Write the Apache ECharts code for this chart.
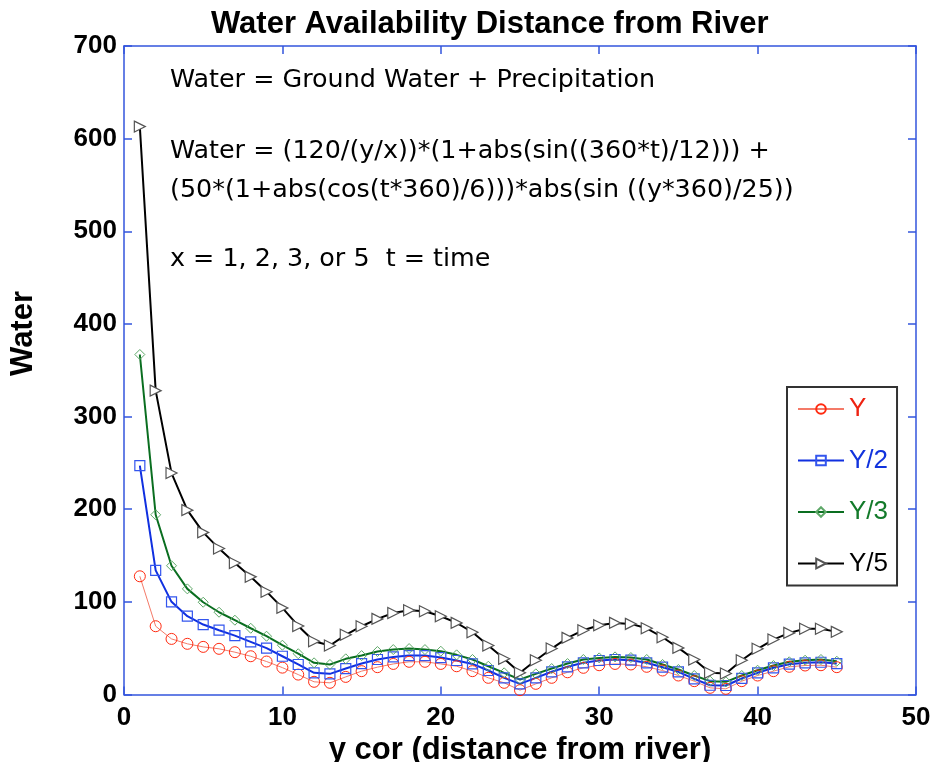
<!DOCTYPE html>
<html>
<head>
<meta charset="utf-8">
<title>Water Availability Distance from River</title>
<script src="https://cdn.jsdelivr.net/npm/echarts@6/dist/echarts.min.js"></script>
<style>
  html, body { margin: 0; padding: 0; background: #fff; }
  #chart { width: 933px; height: 762px; }
</style>
</head>
<body>
<div id="chart"></div>
<script>
// distance from river, 1..45
const distance = [1,2,3,4,5,6,7,8,9,10,11,12,13,14,15,16,17,18,19,20,21,22,23,24,25,26,27,28,29,30,31,32,33,34,35,36,37,38,39,40,41,42,43,44,45];

const waterY = [127.6,73.7,60,54.7,51.4,49.3,45.7,41.3,35.6,29,21.5,13.7,12.6,19,25.2,29.5,33,35.3,35.3,33,30.5,25.2,18,12.6,4.7,11.5,18,24,28.8,31.6,33,32.4,29.9,25.9,20.5,14.4,7.2,6.1,14.4,20.5,25.2,29.9,31.3,31.6,29.5];
const waterY2 = [247,134,100,84.5,75.5,69.4,63.6,56.8,50,41.3,32.4,23.4,22.3,28,33.4,37.8,40.6,42,42,39.9,36.7,33,25.9,18,11.5,18,24.5,29.9,34.2,36.7,37.8,37,34.2,29.5,24.5,16.9,10,9.7,17.3,23.4,28.8,32.7,34.2,34.8,33.4];
const waterY3 = [367,194,139,114,99.6,88.8,80.2,71.5,62.9,53.2,44,34.2,32.4,38.5,42,46.4,48.5,49.6,48.5,46.7,42.8,37.8,30.5,23.4,16.2,22.3,28,33.4,37.8,39.5,40.6,39.9,37.8,32.4,27,20.5,14.4,13.7,20.5,26.2,31.3,35.3,37,37.8,35.9];
const waterY5 = [613,328,239,199,175,157.5,142,127,111,93.5,74,57.5,52.9,64.4,73.7,81.6,88,91,89.9,84.5,77.3,67.2,52.9,38.5,23.4,37,49.6,61.1,69.4,74.8,77.3,76.2,71.5,61.8,50.3,37.8,23.4,22.6,37,49.3,59.3,66.5,70.9,70.9,67.6];

const seriesNames = ['Y', 'Y/2', 'Y/3', 'Y/5'];
const noteLines = [
  'Water = Ground Water + Precipitation',
  'Water = (120/(y/x))*(1+abs(sin((360*t)/12))) +',
  '(50*(1+abs(cos(t*360)/6)))*abs(sin ((y*360)/25))',
  'x = 1, 2, 3, or 5  t = time'
];

const axisBlue = '#3355dd';
const boldFont = '"Liberation Sans", Arial, Helvetica, sans-serif';
const noteFont = '"DejaVu Sans", sans-serif';

function pairs(vals) {
  return distance.map((d, i) => [d, vals[i]]);
}

const chart = echarts.init(document.getElementById('chart'), null, { renderer: 'canvas' });

const axisCommon = {
  type: 'value',
  axisLine: { show: true, onZero: false, lineStyle: { color: axisBlue, width: 1.5 } },
  axisTick: { show: true, inside: true, length: 8, lineStyle: { color: axisBlue, width: 1.5 } },
  splitLine: { show: false }
};

function note(text, y) {
  return { type: 'text', x: 170, y: y, style: { text: text, fontFamily: noteFont, fontSize: 25.4, fill: '#000', verticalAlign: 'middle' } };
}

const option = {
  animation: false,
  backgroundColor: '#fff',
  title: {
    text: 'Water Availability Distance from River',
    left: 206,
    top: 4,
    textStyle: { fontFamily: boldFont, fontWeight: 'bold', fontSize: 31, color: '#000' }
  },
  grid: { left: 124, top: 46, right: 17, bottom: 67.5, outerBoundsMode: 'none', containLabel: false },
  xAxis: [
    Object.assign({}, axisCommon, {
      min: 0, max: 50, interval: 10,
      axisLabel: { margin: 10, fontFamily: boldFont, fontWeight: 'bold', fontSize: 26, color: '#000' },
      name: 'y cor (distance from river)',
      nameLocation: 'middle',
      nameGap: 33,
      nameTextStyle: { fontFamily: boldFont, fontWeight: 'bold', fontSize: 31, color: '#000' }
    }),
    Object.assign({}, axisCommon, {
      position: 'top', min: 0, max: 50, interval: 10,
      axisLabel: { show: false }
    })
  ],
  yAxis: [
    Object.assign({}, axisCommon, {
      min: 0, max: 700, interval: 100,
      axisLabel: { margin: 7, fontFamily: boldFont, fontWeight: 'bold', fontSize: 26, color: '#000' }
    }),
    Object.assign({}, axisCommon, {
      position: 'right', min: 0, max: 700, interval: 100,
      axisLabel: { show: false }
    })
  ],
  legend: {
    orient: 'vertical',
    left: 787,
    top: 387,
    padding: [9, 9, 9, 10],
    itemWidth: 46,
    itemHeight: 12,
    itemGap: 25.5,
    borderColor: '#333',
    borderWidth: 2,
    backgroundColor: '#fff',
    textStyle: { fontFamily: boldFont, fontSize: 26 },
    data: [
      { name: 'Y', textStyle: { color: '#ee2211' } },
      { name: 'Y/2', textStyle: { color: '#1133dd' } },
      { name: 'Y/3', textStyle: { color: '#137a2a' } },
      { name: 'Y/5', textStyle: { color: '#000' } }
    ]
  },
  graphic: [
    {
      type: 'text', left: 8, top: 291,
      rotation: Math.PI / 2,
      style: { text: 'Water', fontFamily: boldFont, fontWeight: 'bold', fontSize: 31, fill: '#000' }
    },
    note(noteLines[0], 80),
    note(noteLines[1], 151),
    note(noteLines[2], 190),
    note(noteLines[3], 259)
  ],
  series: [
    {
      name: seriesNames[0], type: 'line', data: pairs(waterY),
      symbol: 'circle', symbolSize: 11,
      itemStyle: { color: 'rgba(255,255,255,0)', borderColor: '#ff2a10', borderWidth: 1 },
      lineStyle: { color: '#f47a68', width: 1 }
    },
    {
      name: seriesNames[1], type: 'line', data: pairs(waterY2),
      symbol: 'rect', symbolSize: 10,
      itemStyle: { color: 'rgba(255,255,255,0)', borderColor: '#3355ee', borderWidth: 1.2 },
      lineStyle: { color: '#1030e0', width: 2 }
    },
    {
      name: seriesNames[2], type: 'line', data: pairs(waterY3),
      symbol: 'diamond', symbolSize: 10,
      itemStyle: { color: 'rgba(255,255,255,0)', borderColor: '#5ea868', borderWidth: 1 },
      lineStyle: { color: '#0a6e20', width: 2 }
    },
    {
      name: seriesNames[3], type: 'line', data: pairs(waterY5),
      symbol: 'path://M0,0L10,6L0,12Z', symbolSize: [11, 11],
      itemStyle: { color: '#fff', borderColor: '#555', borderWidth: 1.2 },
      lineStyle: { color: '#000', width: 2 }
    }
  ]
};

chart.setOption(option);
</script>
</body>
</html>
